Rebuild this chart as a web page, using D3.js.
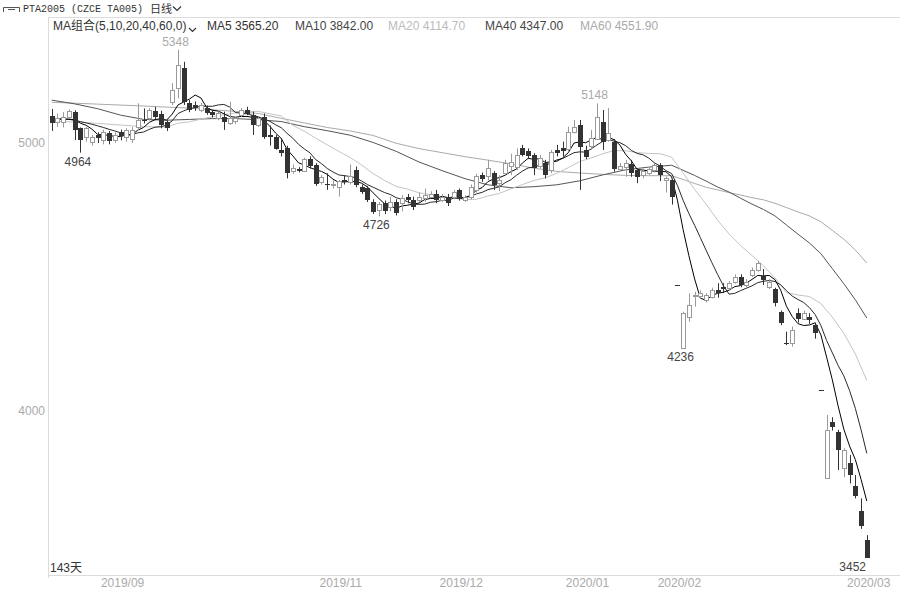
<!DOCTYPE html>
<html><head><meta charset="utf-8">
<script src="https://cdn.jsdelivr.net/npm/d3@7"></script>
<style>html,body{margin:0;padding:0;background:#fff;}svg{display:block;}</style>
</head><body><svg id="c" width="900" height="592"></svg>
<script>
// ---------- data ----------
const opens = [
5101,5080,5076,5096,5117,5055,5020,5007,5030,5011,
5036,5011,5040,5024,5014,5061,5085,5092,5119,5108,
5079,5154,5204,5279,5148,5142,5123,5129,5117,5092,
5098,5073,5079,5104,5123,5104,5067,5098,5030,5024,
4975,4980,4895,4902,4897,4940,4918,4852,4848,4845,
4835,4862,4857,4899,4837,4831,4780,4748,4775,4762,
4778,4775,4800,4787,4787,4793,4800,4810,4787,4797,
4800,4825,4787,4800,4825,4880,4874,4887,4850,4887,
4915,4912,4980,4970,4955,4912,4924,4899,4974,4980,
4980,5042,5067,4974,4986,5017,5080,5011,5005,4905,
4908,4920,4899,4880,4887,4899,4918,4860,4862,4470,
4236,4352,4428,4427,4414,4427,4452,4461,4458,4483,
4501,4470,4508,4526,4504,4464,4455,4371,4255,4253,
4367,4344,4350,4321,4078,3749,3959,3923,3786,3805,
3720,3627,3519];
const highs = [
5127,5110,5115,5125,5122,5058,5060,5030,5040,5050,
5045,5040,5050,5055,5060,5148,5129,5130,5135,5120,
5085,5223,5348,5303,5160,5155,5150,5140,5125,5118,
5117,5154,5100,5130,5135,5117,5100,5110,5065,5030,
5018,4990,4920,4910,4945,4950,4925,4880,4887,4860,
4862,4880,4920,4912,4845,4840,4790,4780,4785,4800,
4790,4805,4810,4800,4815,4830,4820,4825,4810,4810,
4825,4830,4805,4845,4885,4890,4937,4895,4880,4937,
4960,4980,4993,4980,4962,4955,4937,4974,4993,5005,
5061,5086,5086,4990,5049,5148,5123,5130,5015,4925,
4937,4937,4905,4905,4910,4925,4925,4875,4865,4470,
4370,4439,4445,4450,4440,4460,4477,4477,4485,4510,
4510,4492,4535,4560,4530,4492,4460,4375,4296,4315,
4383,4375,4365,4330,4078,3985,3977,3930,3861,3836,
3761,3674,3537];
const lows = [
5045,5060,5058,5090,5011,4964,5005,4990,5000,4995,
4995,5000,5010,5005,5000,5049,5073,5085,5090,5055,
5045,5142,5167,5142,5115,5120,5115,5105,5095,5085,
5049,5067,5070,5098,5104,5030,5060,5015,4990,4975,
4950,4868,4885,4890,4893,4905,4840,4845,4825,4830,
4800,4845,4845,4835,4810,4780,4735,4726,4735,4745,
4730,4745,4775,4750,4780,4780,4795,4775,4780,4765,
4790,4785,4780,4790,4815,4855,4862,4825,4820,4880,
4880,4899,4950,4940,4880,4905,4868,4887,4950,4950,
4968,5036,4825,4940,4974,5011,4974,5005,4893,4895,
4874,4874,4850,4868,4880,4890,4858,4815,4770,4470,
4236,4333,4389,4420,4405,4420,4423,4440,4450,4475,
4462,4462,4500,4520,4470,4455,4390,4320,4246,4240,
4330,4340,4325,4270,4078,3749,3927,3780,3753,3730,
3674,3560,3452];
const closes = [
5074,5095,5096,5118,5051,5011,5055,5024,5017,5042,
5005,5030,5024,5049,5049,5086,5080,5123,5098,5067,
5055,5198,5291,5154,5123,5129,5142,5111,5104,5111,
5079,5092,5092,5123,5108,5067,5092,5024,5024,4980,
4965,4887,4905,4895,4940,4915,4846,4872,4844,4848,
4857,4855,4878,4843,4818,4787,4744,4772,4744,4780,
4738,4793,4787,4760,4800,4806,4810,4787,4800,4775,
4818,4793,4797,4837,4877,4866,4905,4843,4862,4924,
4930,4955,4955,4952,4905,4943,4880,4968,4962,4968,
5042,5061,4986,4949,5017,5098,5005,5036,4905,4915,
4924,4887,4874,4895,4902,4918,4880,4868,4800,4470,
4365,4396,4433,4439,4433,4452,4440,4452,4477,4501,
4470,4483,4526,4551,4489,4483,4402,4330,4250,4302,
4346,4367,4340,4290,4078,3929,3941,3857,3855,3761,
3681,3572,3452];

const ma5 = [
5086,5088,5089,5089,5087,5074,5066,5052,5032,5030,
5029,5024,5024,5030,5031,5048,5058,5077,5087,5091,
5085,5108,5142,5153,5164,5179,5168,5132,5122,5119,
5109,5099,5096,5099,5099,5096,5096,5083,5063,5037,
5017,4976,4952,4926,4918,4908,4900,4894,4883,4865,
4853,4855,4856,4856,4850,4836,4814,4793,4773,4765,
4756,4765,4768,4772,4776,4789,4793,4793,4801,4796,
4798,4795,4797,4804,4824,4834,4856,4866,4871,4880,
4893,4903,4925,4943,4939,4942,4927,4930,4932,4944,
4964,5000,5004,5001,5011,5022,5011,5021,5012,4992,
4957,4933,4901,4899,4896,4895,4894,4893,4874,4787,
4677,4580,4493,4421,4413,4431,4439,4443,4451,4464,
4468,4477,4491,4506,4504,4506,4490,4451,4391,4353,
4326,4319,4321,4329,4284,4201,4116,4019,3932,3869,
3819,3745,3664];
const ma10 = [
5092,5091,5090,5088,5085,5080,5075,5070,5064,5058,
5051,5045,5038,5031,5031,5038,5041,5051,5059,5061,
5066,5083,5110,5120,5128,5132,5138,5137,5137,5142,
5144,5134,5114,5111,5109,5103,5098,5089,5081,5068,
5057,5036,5018,4995,4978,4963,4938,4923,4905,4892,
4881,4878,4875,4870,4858,4845,4835,4825,4815,4808,
4796,4790,4781,4772,4771,4772,4779,4781,4786,4786,
4794,4794,4795,4802,4810,4816,4826,4831,4837,4852,
4863,4880,4895,4907,4910,4917,4915,4927,4937,4942,
4953,4964,4967,4966,4978,4993,5006,5012,5007,5001,
4990,4972,4961,4956,4944,4926,4914,4897,4886,4842,
4786,4737,4693,4647,4600,4554,4510,4468,4436,4439,
4449,4458,4467,4479,4484,4487,4483,4471,4449,4429,
4416,4405,4386,4360,4319,4263,4217,4170,4131,4076,
4010,3930,3842];
const ma20Days = [0,2,4,6,8,10,12,14,16,18,20,22,24,26,28,30,32,34,36,38,40,42,44,46,48,50,52,54,56,58,60,62,64,66,68,70,72,74,76,78,80,82,84,86,88,90,92,94,96,98,100,102,104,106,108,110,112,114,116,118,120,122,124,126,128,130,132,134,136,138,140,142];
const ma20 = [5082,5080,5078,5076,5073,5070,5067,5064,5061,5060,
5059,5074,5079,5089,5098,5105,5112,5118,5118,5109,5101,5066,5044,5018,4993,4969,4946,4918,4886,4860,
4838,4828,4814,4807,4800,4795,4788,4790,4802,4812,4829,4845,4860,4870,4887,4908,4931,4944,4960,4972,
4971,4964,4961,4960,4947,4888,4827,4772,4712,4661,4618,4580,4542,4497,4442,4433,4427,4401,4350,4290,4213,4114];
const ma40Days = [0,4,8,12,16,20,24,28,32,36,40,44,48,52,56,60,64,68,72,76,80,84,88,92,96,100,104,108,110,112,114,116,118,120,122,124,126,128,130,132,134,136,138,140,142];
const ma40 = [5160,5146,5128,5104,5088,5085,5088,5091,5091,5087,5080,5061,5046,5029,5002,4969,4929,4897,4867,4844,
4833,4837,4844,4859,4881,4900,4910,4917,4898,4879,4858,4836,4817,4794,4772,4752,4728,4694,4660,4627,4587,4531,4475,4415,4347];
const ma60Days = [0,8,16,24,32,36,40,44,48,52,56,60,64,68,72,76,80,84,88,92,96,100,104,108,110,112,114,116,118,120,122,124,126,128,130,132,134,136,138,140,142];
const ma60 = [5152,5145,5138,5130,5118,5110,5092,5075,5058,5045,5028,4999,4979,4964,4949,4936,4922,4906,4894,4888,4883,4879,4878,4878,
4864,4849,4835,4825,4815,4806,4796,4788,4775,4759,4743,4728,4706,4674,4641,4601,4552];

const yTicks = [4000, 5000];
const monthLabels = ["2019/09","2019/11","2019/12","2020/01","2020/02","2020/03"];
const monthDays = [12, 50, 71, 93, 109, 142];
const markDays = [22, 5, 57, 95, 110, 142];
const markKind = ["high","low","low","high","low","low"];
const maNames = ["MA5","MA10","MA20","MA40","MA60"];
const maLast = ["3565.20","3842.00","4114.70","4347.00","4551.90"];
const dayCount = "143天";

// ---------- drawing ----------
const svg = d3.select("#c");
const FONT = "'Liberation Sans', Arial, 'Noto Sans CJK SC', sans-serif";
const x = d3.scaleLinear().domain([0, closes.length - 1]).range([51.7, 866.8]);
const y = d3.scaleLinear().domain([4000, 5000]).range([411, 143]);
const px = i => Math.round(x(i));

svg.append("rect").attr("width",900).attr("height",592).attr("fill","#fff");

// frame lines
svg.append("line").attr("x1",48).attr("x2",900).attr("y1",17.5).attr("y2",17.5).attr("stroke","#dcdcdc");
svg.append("line").attr("x1",48.5).attr("x2",48.5).attr("y1",17).attr("y2",578).attr("stroke","#dcdcdc");
svg.append("line").attr("x1",48).attr("x2",900).attr("y1",575.5).attr("y2",575.5).attr("stroke","#dcdcdc");

// top title line
const g0 = svg.append("g");
g0.append("path").attr("d","M3.5,12 V7.5 H19.5 V12 M8,9.5 H15").attr("fill","none").attr("stroke","#555");
g0.append("text").attr("x",23).attr("y",12).attr("font-family","'Liberation Mono', 'DejaVu Sans Mono', monospace")
  .attr("font-size",10).attr("fill","#333").text("PTA2005 (CZCE TA005)");
g0.append("text").attr("x",150).attr("y",12.5).attr("font-family","'Noto Sans CJK SC', sans-serif")
  .attr("font-size",11).attr("fill","#333").text("日线");
g0.append("path").attr("d","M173,6.5 L177,10.5 L181,6.5").attr("fill","none").attr("stroke","#333").attr("stroke-width",1.2);

// MA legend line
const lg = svg.append("g").attr("font-family",FONT).attr("font-size",12);
lg.append("text").attr("x",53).attr("y",30).attr("fill","#333").text("MA组合(5,10,20,40,60,0)");
lg.append("path").attr("d","M189,28 L192.5,31.5 L196,28").attr("fill","none").attr("stroke","#333").attr("stroke-width",1.2);
const maTextColors = ["#333","#444","#bbb","#444","#aaa"];
const maTextX = [207,295,388,485,580];
maNames.forEach((n,k)=>{
  lg.append("text").attr("x",maTextX[k]).attr("y",30).attr("fill",maTextColors[k]).text(n+" "+maLast[k]);
});

// y axis labels
svg.append("g").selectAll("text").data(yTicks).join("text")
  .attr("x",45).attr("y",d=>y(d)+4).attr("text-anchor","end")
  .attr("font-family",FONT).attr("font-size",12).attr("fill","#aaa").text(d=>d);

// x axis labels
svg.append("g").selectAll("text").data(monthLabels).join("text")
  .attr("x",(d,k)=>x(monthDays[k])+2).attr("y",587).attr("text-anchor","middle")
  .attr("font-family",FONT).attr("font-size",12).attr("fill","#aaa").text(d=>d);

svg.append("text").attr("x",50).attr("y",572).attr("font-family",FONT).attr("font-size",12).attr("fill","#333").text(dayCount);

// moving average lines
const line = d3.line().x(d=>x(d[0])).y(d=>y(d[1]));
const maSeries = [
  {days: ma60Days, vals: ma60, color:"#aaaaaa"},
  {days: ma40Days, vals: ma40, color:"#555555"},
  {days: ma20Days, vals: ma20, color:"#c4c4c4"},
  {days: d3.range(ma10.length), vals: ma10, color:"#2a2a2a"},
  {days: d3.range(ma5.length), vals: ma5, color:"#000000"}
];
const mg = svg.append("g").attr("fill","none");
maSeries.forEach(s=>{
  mg.append("path").attr("d", line(s.days.map((d,k)=>[d, s.vals[k]])))
    .attr("stroke", s.color).attr("stroke-width",1);
});

// candles
const cg = svg.append("g");
const idx = d3.range(closes.length);
cg.selectAll("line.w").data(idx).join("line").attr("class","w")
  .attr("x1",i=>px(i)+0.5).attr("x2",i=>px(i)+0.5)
  .attr("y1",i=>y(highs[i])).attr("y2",i=>y(lows[i]))
  .attr("stroke",i=>closes[i]>opens[i]?"#9a9a9a":"#333").attr("stroke-width",1);
cg.selectAll("rect.b").data(idx).join("rect").attr("class","b")
  .attr("x",i=>closes[i]>opens[i]?px(i)-1.5:px(i)-2)
  .attr("width",i=>closes[i]>opens[i]?4:5)
  .attr("y",i=>{const t=y(Math.max(opens[i],closes[i])); return closes[i]>opens[i]?Math.round(t)+0.5:Math.round(t);})
  .attr("height",i=>{const h=y(Math.min(opens[i],closes[i]))-y(Math.max(opens[i],closes[i])); return closes[i]>opens[i]?Math.max(1,Math.round(h)):Math.max(1,Math.round(h));})
  .attr("fill",i=>closes[i]>opens[i]?"#fff":"#333")
  .attr("stroke",i=>closes[i]>opens[i]?"#9a9a9a":"none");

// high / low marks
const mk = svg.append("g").attr("font-family",FONT).attr("font-size",12);
markDays.forEach((d,k)=>{
  const hi = markKind[k]==="high";
  const v = hi ? highs[d] : lows[d];
  const t = mk.append("text").attr("y", hi ? y(v)-4 : y(v)+13)
    .attr("fill", hi ? "#aaa" : "#444").text(v);
  const w = t.node().getComputedTextLength();
  let cx = x(d) - 2.5;
  if (cx + w/2 > 866) cx = 866 - w/2;
  t.attr("x", cx).attr("text-anchor","middle");
});
</script>
</body></html>
